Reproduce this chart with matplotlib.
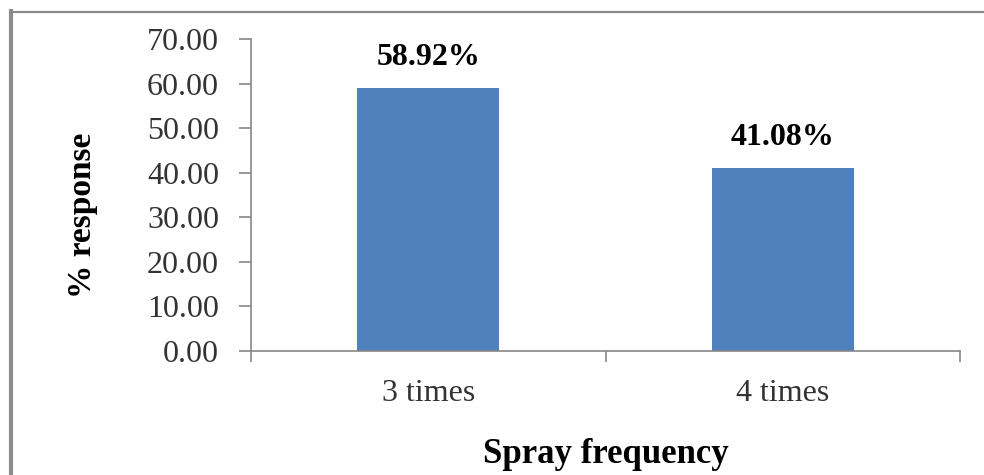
import matplotlib
matplotlib.use("Agg")
import matplotlib.pyplot as plt
from matplotlib.lines import Line2D

# data
categories = ["3 times", "4 times"]
response = [58.92, 41.08]
value_labels = ["58.92%", "41.08%"]
yticks = [0, 10, 20, 30, 40, 50, 60, 70]

plt.rcParams["font.family"] = ["Liberation Serif", "DejaVu Serif"]

fig = plt.figure(figsize=(9.84, 4.75), dpi=100)
ax = fig.add_axes([251 / 984, 1 - 351 / 475, 709 / 984, 312 / 475])

x = list(range(len(categories)))
ax.bar(x, response, width=0.4, color="#4F81BD", zorder=2)

ax.set_xlim(-0.5, len(categories) - 0.5)
ax.set_ylim(0, 70)
ax.set_yticks(yticks)
ax.set_yticklabels([f"{t:.2f}" for t in yticks])
ax.set_xticks(x)
ax.set_xticklabels(categories)
ax.set_xticks([i - 0.5 for i in range(len(categories) + 1)], minor=True)

for s in ["top", "right"]:
    ax.spines[s].set_visible(False)
for s in ["left", "bottom"]:
    ax.spines[s].set_color("#868686")
    ax.spines[s].set_linewidth(1.2)

ax.tick_params(axis="y", direction="out", length=9, width=1.2, color="#868686",
               pad=14, labelsize=23, labelcolor="#333333")
ax.tick_params(axis="x", which="major", length=0, pad=20, labelsize=23,
               labelcolor="#333333")
ax.tick_params(axis="x", which="minor", direction="out", length=8, width=1.2,
               color="#868686")

for i, v in enumerate(response):
    ax.annotate(value_labels[i], (i, v), xytext=(0, 22), textcoords="offset points",
                ha="center", va="center", fontsize=23, fontweight="bold")

ax.set_ylabel("% response", fontsize=24, fontweight="bold", va="center", ha="center")
ax.yaxis.set_label_coords(-0.238, 0.436)
ax.set_xlabel("Spray frequency", fontsize=25, fontweight="bold", va="center")
ax.xaxis.set_label_coords(0.5, -0.333)

# outer frame (left and top edges visible)
fig.add_artist(Line2D([11 / 984, 11 / 984], [0, 1 - 11 / 475], transform=fig.transFigure,
                      color="#8c8c8c", linewidth=3))
fig.add_artist(Line2D([11 / 984, 1], [1 - 11.5 / 475, 1 - 11.5 / 475], transform=fig.transFigure,
                      color="#8c8c8c", linewidth=1.6))

fig.savefig("out.png", dpi=100)
